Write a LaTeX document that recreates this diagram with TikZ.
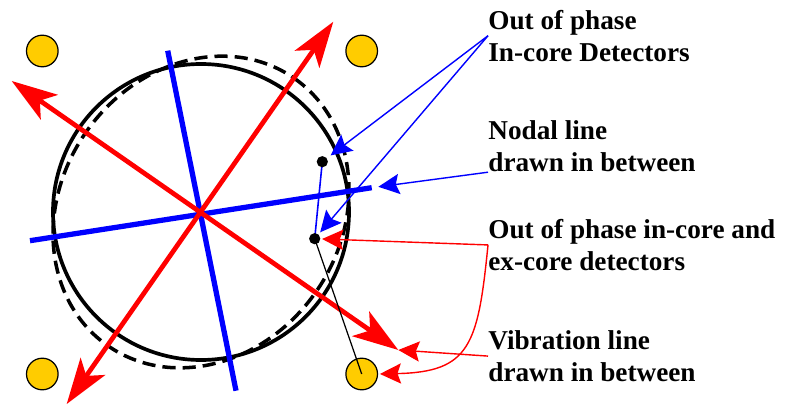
\documentclass[tikz,border=0pt]{standalone}
\usepackage{fontspec}
\setmainfont{Liberation Serif}
\usepackage{xcolor}
\usepackage{tikz}
\usetikzlibrary{arrows.meta,positioning,calc}
\definecolor{detyellow}{RGB}{255, 204, 0}
\definecolor{vibred}{RGB}{255, 0, 0}
\definecolor{nodalblue}{RGB}{0, 0, 255}

\begin{document}
\begin{tikzpicture}[x=0.02cm, y=-0.02cm,
        detector/.style={circle, draw=black, line width=0.7pt, fill=detyellow, inner sep=0pt, minimum size=18pt},
        dot/.style={circle, fill=black, inner sep=0pt, minimum size=6.4pt},
        vibline/.style={draw=vibred, line width=2.7pt, >={Stealth[length=26pt,width=17pt,inset=6.5pt]}, <->},
        nodalline/.style={draw=nodalblue, line width=3pt},
        note/.style={line width=0.8pt, -{Stealth[length=12pt,width=11.5pt,inset=2pt]}},
        lbl/.style={anchor=north west, inner sep=0pt, align=left, font=\fontsize{15.5}{18.4}\selectfont\bfseries}]
        \useasboundingbox (0,0) rectangle (786,405);

        % Ex-core detectors at the four corners
        \node[detector] (det1) at (42.3, 51) {};
        \node[detector] (det2) at (361.7, 51) {};
        \node[detector] (det3) at (42.3, 374) {};
        \node[detector] (det4) at (361.7, 374) {};

        % Core at rest and vibrating core
        \coordinate (core) at (201, 212);
        \draw[line width=2.1pt] (core) circle [radius=148];
        \draw[line width=2pt, dash pattern=on 7.5pt off 4pt, rotate around={55:(core)}] (core) ellipse [x radius=163, y radius=140];

        % Nodal lines
        \coordinate (nodW) at (30, 240.7);
        \coordinate (nodE) at (371.7, 187.7);
        \coordinate (nodN) at (167.7, 50.7);
        \coordinate (nodS) at (236, 390.7);
        \draw[nodalline] (nodW) -- (nodE);
        \draw[nodalline] (nodN) -- (nodS);

        % Vibration directions
        \coordinate (vibNE) at (333.3, 21.7);
        \coordinate (vibSW) at (66.7, 404);
        \coordinate (vibNW) at (11.7, 81);
        \coordinate (vibSE) at (398.3, 350);
        \draw[vibline] (vibSW) -- (vibNE);
        \draw[vibline] (vibNW) -- (vibSE);

        % In-core detectors
        \coordinate (in1) at (322.3, 161.7);
        \coordinate (in2) at (314.7, 238.7);
        \draw[nodalblue, line width=0.9pt] (in1) -- (in2);
        \draw[black, line width=0.7pt] (in2) -- (det4.center);
        \node[dot] (dot1) at (in1) {};
        \node[dot] (dot2) at (in2) {};

        % Labels
        \node[lbl] (lblA) at (488, 9.5) {Out of phase\\In-core Detectors};
        \node[lbl] (lblB) at (488, 120) {Nodal line\\drawn in between};
        \node[lbl] (lblC) at (488, 218.7) {Out of phase in-core and\\ex-core detectors};
        \node[lbl] (lblD) at (488, 330) {Vibration line\\drawn in between};

        % Annotation arrows
        \draw[note, nodalblue, shorten >=2.5pt] (lblA.west) -- (dot1);
        \draw[note, nodalblue, shorten >=1.4pt] (lblA.west) -- (dot2);
        \draw[note, nodalblue, shorten >=3.8pt] (lblB.south west) -- (nodE);
        \draw[note, vibred, shorten >=0.8pt] (lblC.west) -- (dot2);
        \draw[note, vibred, shorten >=1pt] (lblC.west) .. controls (478, 345) and (470, 372) .. (det4.east);
        \draw[note, vibred] (lblD.west) -- (vibSE);
\end{tikzpicture}
\end{document}
